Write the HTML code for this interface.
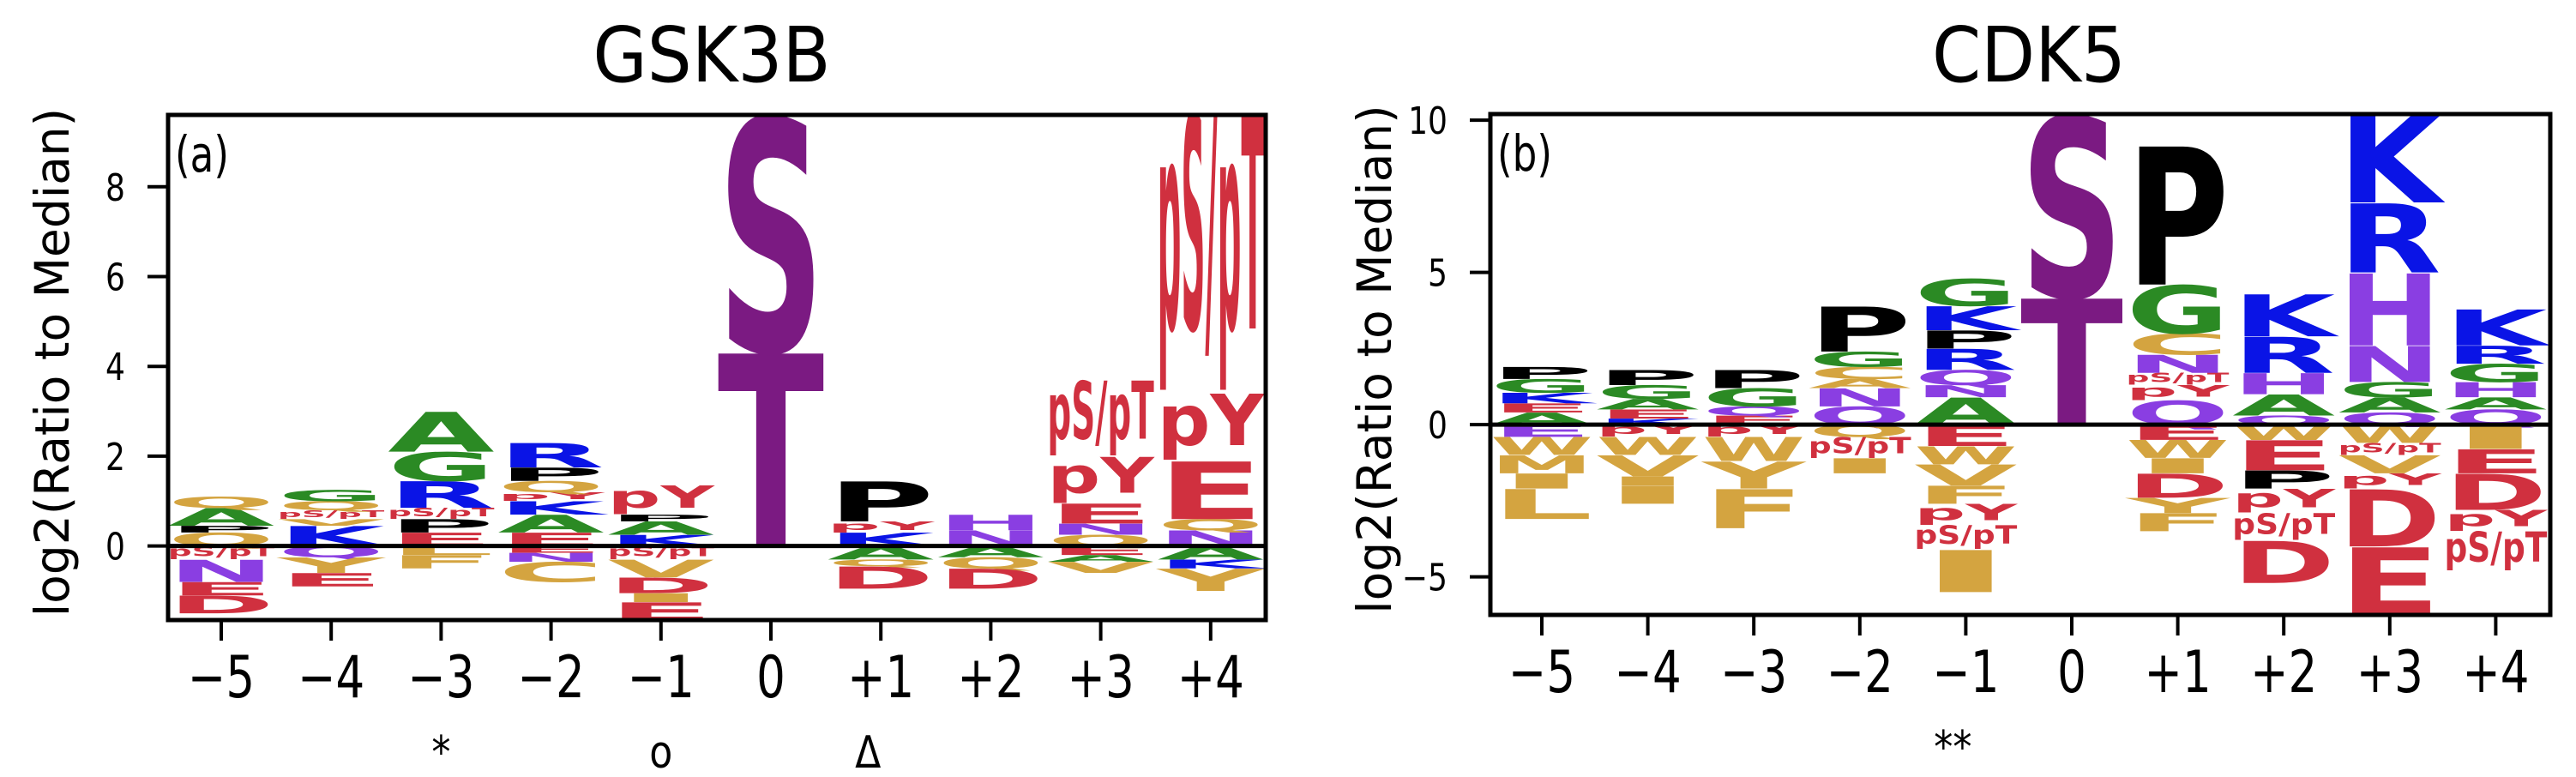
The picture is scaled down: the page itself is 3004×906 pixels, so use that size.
<!DOCTYPE html>
<html><head><meta charset="utf-8">
<style>
html,body{margin:0;padding:0;background:#fff;}
svg{display:block;}
text{font-family:"DejaVu Sans","Liberation Sans",sans-serif;}
</style></head>
<body>
<svg id="fig" width="3004" height="906" viewBox="0 0 3004 906" xmlns="http://www.w3.org/2000/svg">
<rect width="3004" height="906" fill="#fff"/>
<g id="panelA"></g>
<g id="panelB"></g>
</svg>
<script>
// ---------- data ----------
const positions = ['\u22125','\u22124','\u22123','\u22122','\u22121','0','+1','+2','+3','+4'];
const colorMap = {P:'#7b1a82',k:'#000000',b:'#0a14e6',g:'#2b8a24',o:'#d4a440',r:'#d0303f',v:'#8a3ee2'};

// GSK3B positive stacks (bottom->top): [letter, height, colorKey]
const gskPos = [
 [['Q',0.3,'o'],['P',0.15,'k'],['A',0.4,'g'],['Q',0.25,'o']],
 [['K',0.45,'b'],['V',0.15,'o'],['pS/pT',0.2,'r'],['Q',0.2,'o'],['G',0.25,'g']],
 [['E',0.3,'r'],['P',0.3,'k'],['pS/pT',0.25,'r'],['R',0.6,'b'],['G',0.65,'g'],['A',0.9,'g']],
 [['E',0.3,'r'],['A',0.4,'g'],['K',0.3,'b'],['pY',0.2,'r'],['Q',0.25,'o'],['P',0.3,'k'],['R',0.55,'b']],
 [['K',0.25,'b'],['A',0.3,'g'],['P',0.15,'k'],['pY',0.65,'r']],
 [['T',4.35,'P'],['S',5.25,'P']],
 [['K',0.3,'b'],['pY',0.25,'r'],['P',0.9,'k']],
 [['N',0.35,'v'],['H',0.35,'v']],
 [['Q',0.25,'o'],['N',0.25,'v'],['E',0.45,'r'],['pY',1.05,'r'],['pS/pT',1.7,'r']],
 [['N',0.35,'v'],['Q',0.25,'o'],['E',1.3,'r'],['pY',1.5,'r'],['pS/pT',6.3,'r']]
];
// GSK3B negative stacks (top->bottom)
const gskNeg = [
 [['pS/pT',0.3,'r'],['N',0.5,'v'],['E',0.3,'r'],['D',0.4,'r']],
 [['Q',0.25,'v'],['Y',0.35,'o'],['E',0.3,'r']],
 [['L',0.2,'o'],['F',0.3,'o']],
 [['E',0.15,'r'],['N',0.2,'v'],['C',0.45,'o']],
 [['pS/pT',0.3,'r'],['V',0.4,'o'],['D',0.35,'r'],['I',0.2,'o'],['E',0.4,'r']],
 [],
 [['A',0.3,'g'],['Q',0.15,'o'],['D',0.5,'r']],
 [['A',0.25,'g'],['Q',0.25,'o'],['D',0.45,'r']],
 [['E',0.2,'r'],['A',0.15,'g'],['V',0.25,'o']],
 [['A',0.3,'g'],['K',0.2,'b'],['Y',0.5,'o']]
];

// CDK5 positive stacks
const cdkPos = [
 [['A',0.4,'g'],['E',0.3,'r'],['K',0.35,'b'],['G',0.45,'g'],['P',0.4,'k']],
 [['K',0.2,'b'],['E',0.3,'r'],['A',0.35,'g'],['G',0.45,'g'],['P',0.5,'k']],
 [['E',0.3,'r'],['Q',0.3,'v'],['G',0.6,'g'],['P',0.6,'k']],
 [['Q',0.6,'v'],['N',0.6,'v'],['A',0.3,'o'],['C',0.4,'o'],['G',0.5,'g'],['P',1.5,'k']],
 [['A',0.9,'g'],['N',0.4,'v'],['Q',0.5,'v'],['R',0.7,'b'],['P',0.6,'k'],['K',0.8,'b'],['G',0.9,'g']],
 [['T',4.2,'P'],['S',6.0,'P']],
 [['Q',0.8,'v'],['pY',0.5,'r'],['pS/pT',0.4,'r'],['N',0.6,'v'],['C',0.7,'o'],['G',1.6,'g'],['P',4.6,'k']],
 [['Q',0.3,'v'],['A',0.7,'g'],['H',0.7,'v'],['R',1.2,'b'],['K',1.4,'b']],
 [['Q',0.4,'v'],['A',0.5,'g'],['G',0.5,'g'],['N',1.2,'v'],['H',2.4,'v'],['R',2.3,'b'],['K',2.9,'b']],
 [['Q',0.5,'v'],['A',0.4,'g'],['H',0.5,'v'],['G',0.6,'g'],['R',0.6,'b'],['K',1.2,'b']]
];
// CDK5 negative stacks
const cdkNeg = [
 [['E',0.4,'v'],['W',0.6,'o'],['M',0.6,'o'],['I',0.5,'o'],['L',1.0,'o']],
 [['pY',0.4,'r'],['W',0.6,'o'],['V',0.7,'o'],['I',0.3,'o'],['I',0.6,'o']],
 [['pY',0.4,'r'],['W',0.8,'o'],['Y',0.9,'o'],['F',1.3,'o']],
 [['Q',0.4,'o'],['pS/pT',0.7,'r'],['I',0.5,'o']],
 [['E',0.7,'r'],['W',0.6,'o'],['V',0.7,'o'],['F',0.6,'o'],['pY',0.7,'r'],['pS/pT',0.8,'r'],['I',1.4,'o']],
 [],
 [['E',0.5,'r'],['W',0.6,'o'],['I',0.5,'o'],['D',0.8,'r'],['Y',0.5,'o'],['F',0.6,'o']],
 [['W',0.5,'o'],['E',1.0,'r'],['P',0.6,'k'],['pY',0.8,'r'],['pS/pT',0.9,'r'],['D',1.4,'r']],
 [['W',0.6,'o'],['pS/pT',0.4,'r'],['V',0.6,'o'],['pY',0.5,'r'],['D',1.9,'r'],['E',2.2,'r']],
 [['I',0.8,'o'],['E',0.8,'r'],['D',1.2,'r'],['pY',0.7,'r'],['pS/pT',1.3,'r']]
];

const gskYTicks = [0,2,4,6,8];
const cdkYTicks = [-5,0,5,10];

// ---------- drawing ----------
const NS='http://www.w3.org/2000/svg';
function mk(tag,attrs,parent){const e=document.createElementNS(NS,tag);for(const k in attrs)e.setAttribute(k,attrs[k]);parent.appendChild(e);return e;}

function panel(g,cfg){
  const {x0,x1,yTop,yBot,yMin,yMax,pos,neg,yticks,title,titleX,tag,tickX0,tickDX,notes,prefix}=cfg;
  const ys=v=>yBot-(v-yMin)/(yMax-yMin)*(yBot-yTop);
  const xs=i=>tickX0+i*tickDX;
  const colW=tickDX*0.97;
  const clip=mk('clipPath',{id:prefix+'clip'},g);
  mk('rect',{x:x0,y:yTop,width:x1-x0,height:yBot-yTop},clip);
  const logo=mk('g',{'clip-path':'url(#'+prefix+'clip)'},g);
  
  
  function letter(ch,col,top,bot,cx){
    const h=bot-top; if(h<=0.5)return;
    const t=mk('text',{x:0,y:0,'font-weight':'bold','font-size':100,fill:col},logo);
    t.textContent=ch;
    
    
    const adv=t.getComputedTextLength()||60;
    const hasDesc=/[p\/]/.test(ch);
    const asc=74, desc=hasDesc?22:0;
    const sy=h/(asc+desc), sx=colW/adv;
    t.setAttribute('transform','translate('+(cx-colW/2)+','+(bot-desc*sy)+') scale('+sx+','+sy+')');
  }
  pos.forEach((stack,i)=>{let v=0;stack.forEach(([ch,hgt,c])=>{letter(ch,colorMap[c],ys(v+hgt),ys(v),xs(i));v+=hgt;});});
  neg.forEach((stack,i)=>{let v=0;stack.forEach(([ch,hgt,c])=>{letter(ch,colorMap[c],ys(v),ys(v-hgt),xs(i));v-=hgt;});});
  const z=mk('line',{x1:x0,x2:x1,y1:ys(0),y2:ys(0),stroke:'#000','stroke-width':5},g);
  
  const f=mk('rect',{x:x0,y:yTop,width:x1-x0,height:yBot-yTop,fill:'none',stroke:'#000','stroke-width':5},g);
  
  yticks.forEach(v=>{
    const y=ys(v);
    const l=mk('line',{x1:x0-24,x2:x0,y1:y,y2:y,stroke:'#000','stroke-width':4},g);
    
    const t=mk('text',{x:0,y:0,'font-size':44,'text-anchor':'end',fill:'#000',transform:'translate('+(x0-50)+','+(y+16)+') scale(0.82,1)'},g);
    t.textContent=v<0?'\u2212'+(-v):String(v);
    
  });
  positions.forEach((p,i)=>{
    const x=xs(i);
    const l=mk('line',{x1:x,x2:x,y1:yBot,y2:yBot+24,stroke:'#000','stroke-width':4},g);
    
    const t=mk('text',{x:0,y:0,'font-size':68,'text-anchor':'middle',fill:'#000',transform:'translate('+x+','+(yBot+90)+') scale(0.78,1)'},g);
    t.textContent=p;
    
  });
  notes.forEach(([i,s,dx])=>{
    const t=mk('text',{x:0,y:0,'font-size':52,'text-anchor':'middle',fill:'#000',transform:'translate('+(xs(i)+dx)+','+(yBot+172)+') scale(0.85,1)'},g);
    t.textContent=s;
    
  });
  const tt=mk('text',{x:0,y:0,'font-size':89,'text-anchor':'middle',fill:'#000',transform:'translate('+titleX+',95) scale(0.92,1)'},g);
  tt.textContent=title;
  
  const pt=mk('text',{x:0,y:0,'font-size':58,fill:'#000',transform:'translate('+(x0+8)+','+(yTop+66)+') scale(0.78,1)'},g);
  pt.textContent=tag;
  
  const yl=mk('text',{x:0,y:0,'font-size':55,'text-anchor':'middle',fill:'#000',transform:'translate('+(x0-116)+','+((yTop+yBot)/2-6)+') rotate(-90)'},g);
  yl.textContent='log2(Ratio to Median)';
  
}

panel(document.getElementById('panelA'),{prefix:'a',x0:196,x1:1476,yTop:134,yBot:723,yMin:-1.65,yMax:9.6,
  pos:gskPos,neg:gskNeg,yticks:gskYTicks,title:'GSK3B',titleX:830,tag:'(a)',tickX0:258,tickDX:128.2,
  notes:[[2,'*',0],[4,'o',0],[6,'\u0394',-15]]});
panel(document.getElementById('panelB'),{prefix:'b',x0:1738,x1:2974,yTop:133,yBot:717,yMin:-6.25,yMax:10.2,
  pos:cdkPos,neg:cdkNeg,yticks:cdkYTicks,title:'CDK5',titleX:2366,tag:'(b)',tickX0:1798,tickDX:123.6,
  notes:[[4,'**',-15]]});
</script>
</body></html>
